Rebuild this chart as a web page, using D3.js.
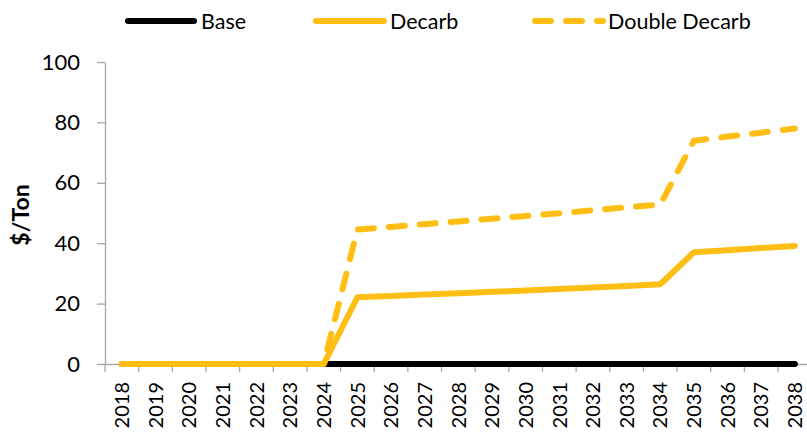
<!DOCTYPE html>
<html>
<head>
<meta charset="utf-8">
<script src="https://cdn.jsdelivr.net/npm/d3@7"></script>
<style>
  html, body { margin: 0; padding: 0; background: #fff; }
  svg { display: block; font-family: Lato, "Open Sans", sans-serif; }
</style>
</head>
<body>
<svg id="chart" width="807" height="435"></svg>
<script>
const years = ["2018","2019","2020","2021","2022","2023","2024","2025","2026","2027","2028","2029","2030","2031","2032","2033","2034","2035","2036","2037","2038"];
const baseValues = [0,0,0,0,0,0,0,0,0,0,0,0,0,0,0,0,0,0,0,0,0];
const decarbValues = [0,0,0,0,0,0,0,22.1,22.5,23.0,23.4,23.9,24.3,24.8,25.3,25.8,26.4,37.0,37.7,38.4,39.1];
const doubleDecarbValues = [0,0,0,0,0,0,0,44.5,45.4,46.3,47.2,48.1,49.0,49.9,50.9,51.9,52.8,73.9,75.3,76.6,78.0];
const yTicks = [0,20,40,60,80,100];
const seriesNames = ["Base","Decarb","Double Decarb"];

const gold = "#FEBE14";
const axisGray = "#A6A6A6";
const dash = "16,15";

const svg = d3.select("#chart");
const mLeft = 105, mRight = 811.7, mTop = 62, mBottom = 364;

const x = d3.scaleBand().domain(years).range([mLeft, mRight]).padding(0);
const y = d3.scaleLinear().domain([0, 100]).range([mBottom, mTop]);
const cx = d => x(d) + x.bandwidth() / 2;

// Y axis
const yAxis = svg.append("g")
  .attr("transform", `translate(${mLeft},0)`)
  .call(d3.axisLeft(y).tickValues(yTicks).tickSize(8).tickSizeOuter(0).tickPadding(17));
yAxis.select(".domain").attr("stroke", axisGray).attr("stroke-width", 1.3);
yAxis.selectAll(".tick line").attr("stroke", axisGray).attr("stroke-width", 1.3);
yAxis.selectAll(".tick text").attr("fill", "#000").style("font-size", "22px").style("font-family", "Lato, sans-serif");

// X axis
const xAxis = svg.append("g")
  .attr("transform", `translate(0,${mBottom})`)
  .call(d3.axisBottom(x).tickSize(0).tickSizeOuter(0).tickPadding(0));
xAxis.select(".domain").attr("stroke", axisGray).attr("stroke-width", 1.3);
xAxis.selectAll(".tick text")
  .attr("fill", "#000")
  .style("font-size", "20px")
  .style("font-family", "Lato, sans-serif")
  .attr("text-anchor", "end")
  .attr("transform", "rotate(-90)")
  .attr("x", -18)
  .attr("y", 0)
  .attr("dy", "0.36em");
const bounds = years.map(d => x(d)).concat([x(years[years.length-1]) + x.bandwidth()]);
xAxis.selectAll(".cat-tick").data(bounds).enter().append("line")
  .attr("class", "cat-tick")
  .attr("x1", d => d).attr("x2", d => d)
  .attr("y1", 0).attr("y2", 8)
  .attr("stroke", axisGray).attr("stroke-width", 1.3);

// Y title
svg.append("text")
  .attr("transform", `translate(29,215) rotate(-90)`)
  .attr("text-anchor", "middle")
  .style("font-size", "23px")
  .style("font-weight", "bold")
  .style("font-family", "Lato, sans-serif")
  .text("$/Ton");

const line = d3.line().x((v, i) => cx(years[i])).y(v => y(v));

svg.append("path").datum(baseValues)
  .attr("d", line).attr("fill", "none").attr("stroke", "#000")
  .attr("stroke-width", 6).attr("stroke-linecap", "round").attr("stroke-linejoin", "round");
svg.append("path").datum(doubleDecarbValues)
  .attr("d", line).attr("fill", "none").attr("stroke", gold)
  .attr("stroke-width", 6).attr("stroke-linecap", "round").attr("stroke-linejoin", "round")
  .attr("stroke-dasharray", dash);
svg.append("path").datum(decarbValues)
  .attr("d", line).attr("fill", "none").attr("stroke", gold)
  .attr("stroke-width", 6).attr("stroke-linecap", "round").attr("stroke-linejoin", "round");

// Legend
const legend = [
  {name: seriesNames[0], x1: 128, x2: 194, tx: 201, color: "#000", dash: null},
  {name: seriesNames[1], x1: 316, x2: 384, tx: 390, color: gold, dash: null},
  {name: seriesNames[2], x1: 535, x2: 603, tx: 608, color: gold, dash: dash}
];
const lg = svg.append("g");
legend.forEach(l => {
  lg.append("line").attr("x1", l.x1).attr("x2", l.x2).attr("y1", 21).attr("y2", 21)
    .attr("stroke", l.color).attr("stroke-width", 6).attr("stroke-linecap", "round")
    .attr("stroke-dasharray", l.dash);
  lg.append("text").attr("x", l.tx).attr("y", 21).attr("dy", "0.36em")
    .style("font-size", "21.5px").style("font-family", "Lato, sans-serif").text(l.name);
});
</script>
</body>
</html>
